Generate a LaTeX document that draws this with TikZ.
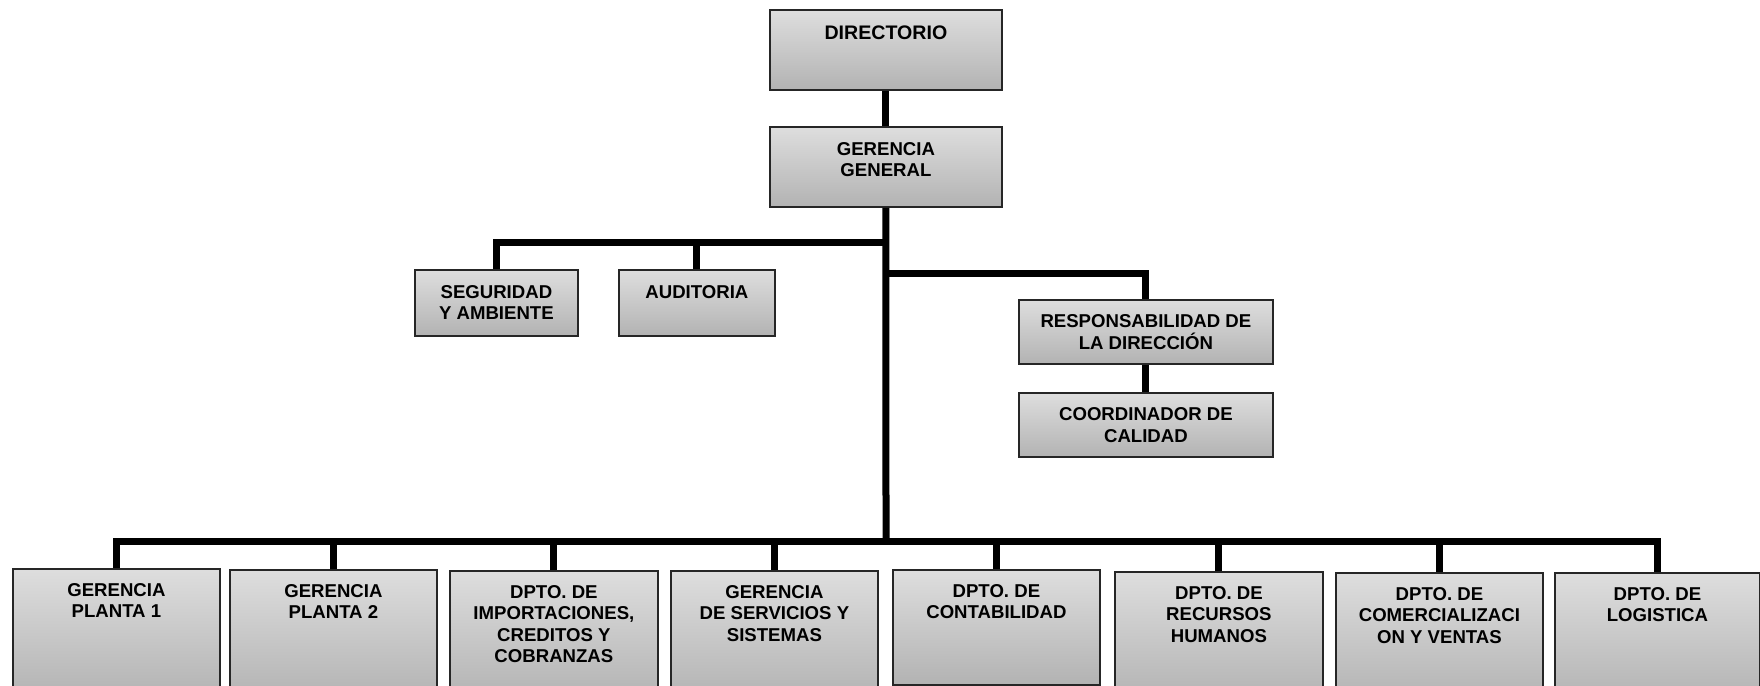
\documentclass[tikz,border=0pt]{standalone}
\usepackage{fontspec}
\setmainfont{Liberation Sans}
\usetikzlibrary{positioning}

\begin{document}
\begin{tikzpicture}[x=0.5pt,y=-0.5pt,
	box node/.style={draw=black!85, line width=0.9pt, top color=black!13,
		bottom color=black!30, anchor=north west, inner sep=0pt},
	name node/.style={font=\bfseries\fontsize{9.3}{10.7}\selectfont, align=center, inner sep=0pt},
	link/.style={line width=3.5pt}]

	\useasboundingbox (0,0) rectangle (1760,685);
	\clip (0,0) rectangle (1760,685);

	% top of the chart
	\node[box node, minimum width=116pt, minimum height=40pt] (dir) at (769,9) {};
	\node[box node, minimum width=116pt, minimum height=40pt] (gg) at (769,126) {};
	\node[box node, minimum width=81.5pt, minimum height=33pt] (seg) at (414,269) {};
	\node[box node, minimum width=78pt, minimum height=33pt] (aud) at (618,269) {};
	\node[box node, minimum width=127pt, minimum height=32pt] (resp) at (1018,299) {};
	\node[box node, minimum width=127pt, minimum height=32pt] (coord) at (1018,392) {};

	% departments
	\node[box node, minimum width=103.5pt, minimum height=65pt] (b1) at (12,568) {};
	\node[box node, minimum width=103.5pt, minimum height=65pt] (b2) at (229,569) {};
	\node[box node, minimum width=104pt, minimum height=65pt] (b3) at (449,570) {};
	\node[box node, minimum width=103.5pt, minimum height=65pt] (b4) at (670,570) {};
	\node[box node, minimum width=103.5pt, minimum height=57.5pt] (b5) at (892,569) {};
	\node[box node, minimum width=104pt, minimum height=65pt] (b6) at (1114,571) {};
	\node[box node, minimum width=103.5pt, minimum height=65pt] (b7) at (1335,572) {};
	\node[box node, minimum width=102.5pt, minimum height=65pt] (b8) at (1554,572) {};

	\node[name node, font=\bfseries\fontsize{9.8}{10.7}\selectfont, below=8.3pt of dir.north] (dir-t) {DIRECTORIO};
	\node[name node, below=8pt of gg.north] (gg-t) {GERENCIA\\GENERAL};
	\node[name node, below=8pt of seg.north] (seg-t) {SEGURIDAD\\Y AMBIENTE};
	\node[name node, below=8pt of aud.north] (aud-t) {AUDITORIA};
	\node[name node, below=7.8pt of resp.north] (resp-t) {RESPONSABILIDAD DE\\LA DIRECCIÓN};
	\node[name node, below=7.8pt of coord.north] (coord-t) {COORDINADOR DE\\CALIDAD};
	\node[name node, below=7.6pt of b1.north] (b1-t) {GERENCIA\\PLANTA 1};
	\node[name node, below=7.6pt of b2.north] (b2-t) {GERENCIA\\PLANTA 2};
	\node[name node, below=7.6pt of b3.north] (b3-t) {DPTO. DE\\IMPORTACIONES,\\CREDITOS Y\\COBRANZAS};
	\node[name node, below=7.6pt of b4.north] (b4-t) {GERENCIA\\DE SERVICIOS Y\\SISTEMAS};
	\node[name node, below=7.6pt of b5.north] (b5-t) {DPTO. DE\\CONTABILIDAD};
	\node[name node, below=7.6pt of b6.north] (b6-t) {DPTO. DE\\RECURSOS\\HUMANOS};
	\node[name node, below=7.6pt of b7.north] (b7-t) {DPTO. DE\\COMERCIALIZACI\\ON Y VENTAS};
	\node[name node, below=7.6pt of b8.north] (b8-t) {DPTO. DE\\LOGISTICA};

	\coordinate (upper) at (886,242);
	\coordinate (mid) at (886,273);
	\coordinate (lower) at (886,541);

	\draw[link] (dir) -- (gg);
	\draw[link] (gg.south) -- (lower);
	\draw[link] (seg.north) |- (upper);
	\draw[link] (aud.north) -- (aud.north |- upper);
	\draw[link] (mid) -| (resp.north);
	\draw[link] (resp) -- (coord);
	\draw[link] (b1.north) |- (lower) -| (b8.north);
	\draw[link] (b2.north) -- (b2.north |- lower);
	\draw[link] (b3.north) -- (b3.north |- lower);
	\draw[link] (b4.north) -- (b4.north |- lower);
	\draw[link] (b5.north) -- (b5.north |- lower);
	\draw[link] (b6.north) -- (b6.north |- lower);
	\draw[link] (b7.north) -- (b7.north |- lower);
\end{tikzpicture}
\end{document}
